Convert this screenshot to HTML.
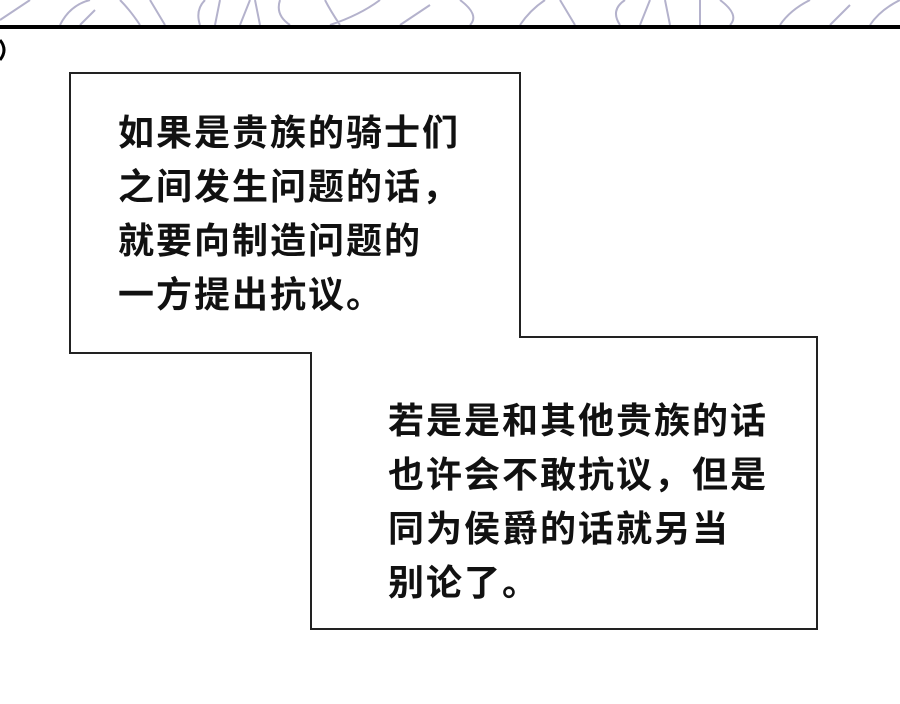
<!DOCTYPE html>
<html><head><meta charset="utf-8"><style>
body{margin:0;width:900px;height:704px;background:#fff;overflow:hidden;position:relative;font-family:"Liberation Sans","Noto Sans CJK SC",sans-serif}
.t{position:absolute;font-size:36px;font-weight:bold;line-height:54px;color:#111;white-space:nowrap;letter-spacing:2px}
</style></head><body>
<svg width="900" height="704" style="position:absolute;left:0;top:0">
<g stroke="#b4b2cc" stroke-width="2" fill="none">
<path d="M0 20 L30 0 M60 25 Q70 5 90 0 M80 25 L95 10 M140 25 Q130 10 120 0 M150 0 L165 25 M200 25 Q195 10 205 0 M215 25 L220 0 M240 25 L250 0 M260 25 L255 0 M280 0 Q275 15 290 25 M340 25 Q330 10 325 0 M380 0 Q360 15 330 25 M400 25 L430 5 M460 0 Q480 15 470 25 M520 25 Q530 10 545 0 M560 0 L575 25 M620 25 Q610 10 625 0 M650 0 L640 25 M670 25 L665 0 M700 25 L700 0 M720 0 Q740 15 730 25 M780 25 Q790 10 810 0 M830 25 L850 5 M870 25 Q880 10 900 0"/>
</g>
<rect x="0" y="25" width="900" height="4" fill="#000"/>
<path d="M0 40 Q8 50 0 60" stroke="#000" stroke-width="3" fill="none"/>
<path d="M70 73 L520 73 L520 337 L817 337 L817 629 L311 629 L311 353 L70 353 Z" fill="#fff" stroke="#222" stroke-width="2"/>
</svg>
<div class="t" style="left:118px;top:106px">如果是贵族的骑士们<br>之间发生问题的话，<br>就要向制造问题的<br>一方提出抗议。</div>
<div class="t" style="left:388px;top:394px">若是是和其他贵族的话<br>也许会不敢抗议，但是<br>同为侯爵的话就另当<br>别论了。</div>
</body></html>
